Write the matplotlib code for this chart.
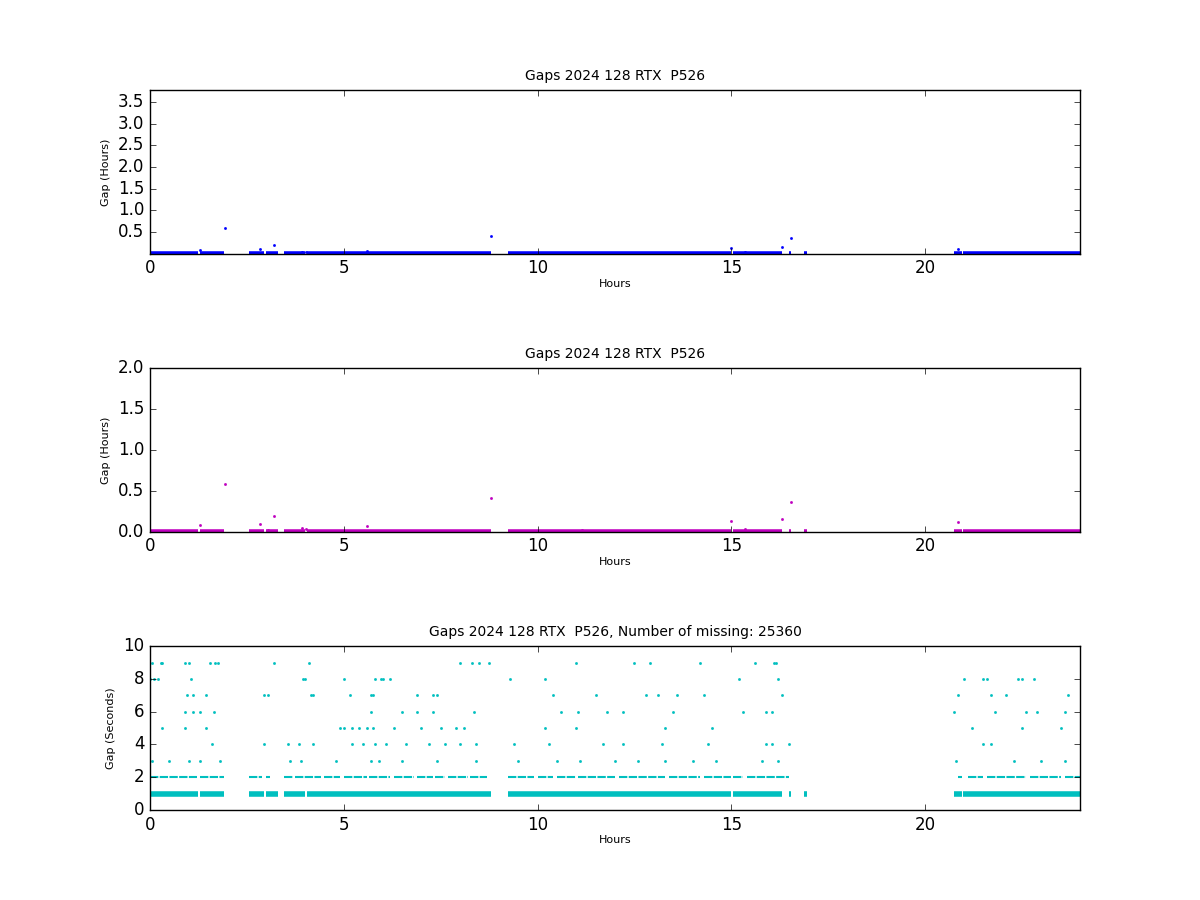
import matplotlib
matplotlib.use("Agg")
import matplotlib.pyplot as plt
import numpy as np

title = "Gaps 2024 128 RTX  P526"
n_missing = 25360

# coverage intervals (hours) where data gaps of 1 s are continuous
band1_segments = [(0.0, 1.25), (1.3, 1.9), (2.55, 2.95), (3.0, 3.3), (3.45, 4.0), (4.05, 8.8),
                  (9.25, 15.0), (15.05, 16.3), (16.48, 16.55), (16.88, 16.95), (20.75, 20.95), (20.98, 24.0)]
# segments where 2 s gaps are dense
band2_segments = [(0.0, 1.2), (1.3, 1.9), (2.55, 2.9), (3.0, 3.1), (3.45, 3.7), (3.75, 4.4), (4.5, 4.9),
                  (5.0, 5.6), (5.65, 6.2), (6.3, 6.8), (6.9, 7.3), (7.35, 7.6), (7.7, 8.2), (8.25, 8.7),
                  (9.25, 9.9), (10.0, 10.4), (10.5, 11.0), (11.05, 12.0), (12.1, 13.3), (13.4, 14.2),
                  (14.3, 15.0), (15.05, 15.3), (15.4, 16.5), (20.85, 20.95), (21.1, 21.5), (21.6, 22.6),
                  (22.7, 23.5), (23.6, 24.0)]

# sparse larger gaps (hours, seconds)
sparse_t = [0.05, 0.28, 0.32, 0.9, 1.0, 1.55, 1.68, 1.75, 3.2, 4.1, 8.0, 8.3, 8.5, 8.75, 11.0, 12.5, 12.9, 14.2, 15.6, 16.1, 16.15,
            0.1, 0.2, 1.05, 3.95, 4.0, 5.0, 5.8, 5.95, 6.0, 6.2, 9.3, 10.2, 15.2, 16.2, 21.0, 21.5, 21.6, 22.4, 22.5, 22.8,
            0.0, 0.95, 1.1, 1.45, 2.95, 3.05, 4.15, 4.2, 5.15, 5.7, 5.75, 6.9, 7.3, 7.4, 10.4, 11.5, 12.8, 13.1, 13.6, 14.3, 16.3, 20.85, 21.7, 22.1, 23.7,
            0.9, 1.1, 1.3, 1.65, 5.7, 6.5, 6.9, 7.3, 8.35, 10.6, 11.05, 11.8, 12.2, 13.5, 15.3, 15.9, 16.05, 20.75, 21.8, 22.6, 22.9, 23.6,
            0.3, 0.9, 1.45, 4.9, 5.0, 5.2, 5.4, 5.6, 5.75, 6.3, 7.0, 7.5, 7.9, 8.1, 10.2, 11.0, 13.3, 14.5, 21.2, 22.5, 23.5,
            1.6, 2.95, 3.55, 3.85, 4.2, 5.2, 5.5, 5.8, 6.1, 6.6, 7.2, 7.6, 8.0, 8.4, 9.4, 10.3, 11.7, 12.2, 13.2, 14.4, 15.9, 16.05, 16.5, 21.5, 21.7,
            0.05, 0.5, 1.0, 1.3, 1.8, 3.6, 3.9, 4.8, 5.7, 5.9, 6.5, 7.4, 8.4, 9.5, 10.5, 11.1, 12.0, 12.6, 13.3, 14.0, 14.6, 15.8, 16.2, 20.8, 22.3, 23.0, 23.6]
sparse_g = [9]*21 + [8]*21 + [7]*24 + [6]*22 + [5]*21 + [4]*25 + [3]*27

# gaps in hours (top two panels), outliers
hour_t = [1.3, 1.93, 2.83, 3.05, 3.2, 3.93, 4.03, 5.6, 8.8, 11.15, 15.0, 15.35, 16.3, 16.55, 20.85]
hour_g = [0.08, 0.59, 0.1, 0.02, 0.2, 0.05, 0.04, 0.07, 0.42, 0.02, 0.13, 0.04, 0.16, 0.37, 0.12]

plt.style.use("classic")
fig = plt.figure(figsize=(12, 9), dpi=100)
axes = [fig.add_axes([0.125, 0.718, 0.775, 0.182]),
        fig.add_axes([0.125, 0.409, 0.775, 0.182]),
        fig.add_axes([0.125, 0.100, 0.775, 0.182])]

def draw_band(ax, segs, y, color, lw, ls="-"):
    for a, b in segs:
        ax.plot([a, b], [y, y], color=color, lw=lw, ls=ls, solid_capstyle="butt")

# top
ax = axes[0]
draw_band(ax, band1_segments, 0.0003, "b", 4)
ax.plot(hour_t, hour_g, "b.", ms=3, mec="b")
ax.set_ylim(0, 3.78)
ax.set_yticks(np.arange(0.5, 3.6, 0.5))
ax.set_title(title, fontsize=10, pad=7)
ax.set_ylabel("Gap (Hours)", fontsize=8)

# middle
ax = axes[1]
draw_band(ax, band1_segments, 0.0003, "m", 4)
ax.plot(hour_t, hour_g, "m.", ms=3, mec="m")
ax.set_ylim(0, 2.0)
ax.set_yticks(np.arange(0, 2.01, 0.5))
ax.set_title(title, fontsize=10, pad=7)
ax.set_ylabel("Gap (Hours)", fontsize=8)

# bottom
ax = axes[2]
draw_band(ax, band1_segments, 1, "c", 4)
draw_band(ax, band2_segments, 2, "c", 1.5, ls=(0, (6, 1)))
ax.plot(sparse_t, sparse_g, "c.", ms=3, mec="c", ls="none")
ax.set_ylim(0, 10)
ax.set_title(f"{title}, Number of missing: {n_missing}", fontsize=10, pad=7)
ax.set_ylabel("Gap (Seconds)", fontsize=8)

for ax in axes:
    ax.set_xlim(0, 24)
    ax.set_xticks([0, 5, 10, 15, 20])
    ax.set_xlabel("Hours", fontsize=8, labelpad=1)

fig.savefig("out.png", dpi=100)
